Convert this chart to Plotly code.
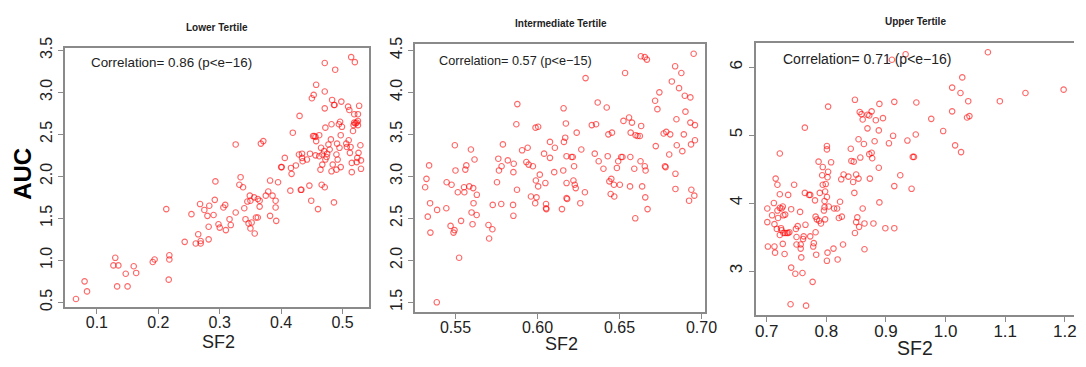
import plotly.graph_objects as go

W, H = 1086, 367

# ---------------- data ----------------
lower_sf2 = [0.066, 0.080, 0.084, 0.130, 0.127, 0.135, 0.133, 0.147, 0.150, 0.160, 0.164, 0.191, 0.194,
             0.218, 0.218, 0.217, 0.213, 0.243, 0.254, 0.261, 0.265, 0.269, 0.269, 0.268, 0.275, 0.280,
             0.283, 0.282, 0.282, 0.290, 0.292, 0.293, 0.298, 0.300, 0.306, 0.309, 0.310, 0.316, 0.318,
             0.326, 0.326, 0.332, 0.334, 0.338, 0.340, 0.342, 0.345, 0.347, 0.349, 0.350, 0.350, 0.352,
             0.356, 0.357, 0.359, 0.362, 0.362, 0.365, 0.365, 0.367, 0.371, 0.375, 0.379, 0.382, 0.382,
             0.386, 0.391, 0.391, 0.392, 0.395, 0.400, 0.401, 0.406, 0.415, 0.416, 0.417, 0.419, 0.424,
             0.429, 0.430, 0.432, 0.433, 0.434, 0.434, 0.435, 0.442, 0.447, 0.446, 0.449, 0.450, 0.453,
             0.452, 0.454, 0.456, 0.457, 0.457, 0.456, 0.460, 0.462, 0.462, 0.464, 0.465, 0.466, 0.467,
             0.467, 0.470, 0.471, 0.471, 0.471, 0.471, 0.472, 0.472, 0.474, 0.475, 0.477, 0.479, 0.481,
             0.482, 0.482, 0.483, 0.484, 0.486, 0.487, 0.486, 0.488, 0.490, 0.490, 0.491, 0.492, 0.494,
             0.495, 0.496, 0.497, 0.497, 0.498, 0.499, 0.506, 0.507, 0.509, 0.510, 0.511, 0.512, 0.513,
             0.514, 0.515, 0.515, 0.517, 0.518, 0.519, 0.520, 0.519, 0.521, 0.523, 0.523, 0.524, 0.525,
             0.525, 0.525, 0.526, 0.527, 0.529, 0.530, 0.530]
lower_auc = [0.54, 0.75, 0.63, 1.03, 0.94, 0.94, 0.69, 0.84, 0.69, 0.93, 0.85, 0.98, 1.01,
             1.06, 1.01, 0.77, 1.61, 1.22, 1.55, 1.20, 1.31, 1.23, 1.20, 1.67, 1.60, 1.53,
             1.65, 1.40, 1.25, 1.54, 1.72, 1.94, 1.43, 1.39, 1.63, 1.66, 1.36, 1.49, 1.42,
             1.57, 2.38, 1.90, 1.99, 1.87, 1.62, 1.49, 1.70, 1.44, 1.77, 1.71, 1.38, 1.45,
             1.75, 1.32, 1.51, 1.51, 1.73, 1.71, 1.64, 2.39, 2.42, 1.77, 1.82, 1.95, 1.53,
             1.77, 1.71, 1.63, 1.47, 1.93, 2.11, 2.11, 2.22, 1.83, 2.10, 2.03, 2.52, 2.13,
             2.26, 2.72, 1.84, 1.84, 2.27, 2.22, 2.18, 2.20, 2.27, 1.89, 1.71, 2.93, 2.97,
             2.48, 2.48, 2.47, 3.09, 2.42, 2.25, 1.61, 2.49, 2.24, 2.08, 2.34, 1.90, 2.14,
             2.26, 2.30, 3.35, 3.01, 2.81, 1.87, 2.58, 2.20, 2.23, 2.27, 2.38, 2.32, 2.44,
             2.62, 2.06, 2.91, 2.14, 2.85, 2.85, 1.69, 3.27, 2.26, 2.08, 2.39, 2.20, 2.62,
             2.34, 2.65, 2.49, 2.11, 2.89, 2.59, 2.39, 2.35, 2.83, 2.43, 2.79, 2.28, 2.35,
             3.42, 2.05, 2.16, 2.54, 2.61, 2.74, 3.36, 2.64, 2.63, 2.64, 2.17, 2.22, 2.66,
             2.74, 2.61, 2.28, 2.84, 2.37, 2.09, 2.19]

mid_sf2 = [0.5315, 0.5323, 0.5331, 0.5339, 0.5345, 0.5347, 0.5386, 0.5388, 0.5446, 0.5444, 0.5470, 0.5476,
           0.5488, 0.5494, 0.5496, 0.5500, 0.5514, 0.5522, 0.5534, 0.5552, 0.5554, 0.5560, 0.5566, 0.5584,
           0.5594, 0.5598, 0.5604, 0.5608, 0.5610, 0.5616, 0.5629, 0.5630, 0.5701, 0.5705, 0.5725, 0.5727,
           0.5753, 0.5761, 0.5765, 0.5779, 0.5781, 0.5789, 0.5819, 0.5851, 0.5853, 0.5853, 0.5855, 0.5871,
           0.5877, 0.5875, 0.5906, 0.5932, 0.5940, 0.5946, 0.5960, 0.5972, 0.5986, 0.5994, 0.5990, 0.5988,
           0.6004, 0.6004, 0.6014, 0.6040, 0.6048, 0.6052, 0.6052, 0.6054, 0.6076, 0.6076, 0.6102, 0.6106,
           0.6149, 0.6157, 0.6161, 0.6159, 0.6169, 0.6173, 0.6177, 0.6177, 0.6177, 0.6181, 0.6207, 0.6215,
           0.6219, 0.6223, 0.6227, 0.6233, 0.6239, 0.6261, 0.6267, 0.6289, 0.6293, 0.6331, 0.6357, 0.6349,
           0.6367, 0.6373, 0.6402, 0.6422, 0.6428, 0.6432, 0.6438, 0.6446, 0.6450, 0.6454, 0.6466, 0.6468,
           0.6484, 0.6492, 0.6502, 0.6510, 0.6518, 0.6524, 0.6534, 0.6558, 0.6564, 0.6566, 0.6568, 0.6576,
           0.6590, 0.6596, 0.6598, 0.6610, 0.6624, 0.6630, 0.6628, 0.6632, 0.6638, 0.6654, 0.6667, 0.6654,
           0.6659, 0.6657, 0.6671, 0.6717, 0.6721, 0.6731, 0.6743, 0.6769, 0.6777, 0.6781, 0.6785, 0.6803,
           0.6809, 0.6819, 0.6839, 0.6841, 0.6841, 0.6847, 0.6849, 0.6863, 0.6877, 0.6883, 0.6892, 0.6898,
           0.6902, 0.6924, 0.6932, 0.6932, 0.6936, 0.6938, 0.6952, 0.6956, 0.6960, 0.6960]
mid_auc = [2.87, 2.97, 2.52, 3.13, 2.68, 2.33, 1.50, 2.60, 2.93, 2.62, 2.41, 2.90,
           2.33, 2.36, 3.37, 3.07, 2.81, 2.03, 2.47, 2.87, 2.81, 3.08, 3.13, 2.88,
           3.32, 2.57, 2.43, 2.86, 2.68, 3.20, 2.54, 2.78, 2.42, 2.26, 2.37, 2.66,
           2.93, 3.21, 3.07, 2.67, 3.12, 3.38, 3.19, 2.66, 2.53, 3.05, 3.15, 3.62,
           3.86, 2.84, 3.31, 3.17, 3.34, 3.14, 2.76, 3.12, 2.68, 2.75, 2.95, 3.58,
           3.59, 2.88, 3.02, 3.27, 2.92, 2.67, 2.62, 2.61, 3.41, 3.22, 3.05, 3.34,
           2.61, 3.07, 3.41, 3.81, 3.46, 3.63, 3.24, 2.92, 2.74, 2.73, 3.23, 3.23,
           2.95, 3.12, 2.90, 2.86, 3.52, 2.68, 3.32, 2.81, 4.17, 3.61, 3.62, 3.27,
           3.88, 3.18, 3.09, 3.82, 3.24, 3.50, 2.94, 2.79, 2.97, 3.52, 2.90, 2.76,
           3.10, 3.18, 2.90, 3.23, 3.23, 3.66, 4.23, 3.70, 2.88, 3.23, 3.52, 3.64,
           3.09, 2.50, 3.49, 3.48, 3.48, 4.43, 3.18, 3.60, 2.88, 4.42, 4.39, 3.12,
           3.07, 2.75, 2.61, 3.90, 3.36, 3.80, 4.00, 3.51, 3.12, 3.11, 3.53, 3.26,
           3.50, 4.13, 4.31, 3.03, 2.85, 3.68, 3.37, 4.05, 4.23, 3.30, 3.50, 3.96,
           3.77, 2.71, 3.94, 3.64, 3.38, 2.84, 4.46, 2.77, 3.61, 3.43]

upper_sf2 = [0.701, 0.701, 0.702, 0.709, 0.712, 0.713, 0.713, 0.714, 0.715, 0.717, 0.718, 0.718, 0.719,
             0.722, 0.722, 0.722, 0.722, 0.724, 0.725, 0.725, 0.727, 0.727, 0.728, 0.728, 0.730, 0.731,
             0.731, 0.734, 0.736, 0.736, 0.738, 0.740, 0.741, 0.741, 0.746, 0.748, 0.749, 0.750, 0.750,
             0.752, 0.756, 0.757, 0.757, 0.758, 0.760, 0.761, 0.762, 0.764, 0.764, 0.765, 0.766, 0.771,
             0.773, 0.773, 0.777, 0.778, 0.779, 0.781, 0.782, 0.782, 0.783, 0.784, 0.787, 0.788, 0.789,
             0.791, 0.793, 0.794, 0.794, 0.796, 0.797, 0.797, 0.798, 0.798, 0.799, 0.801, 0.801, 0.801,
             0.802, 0.801, 0.802, 0.803, 0.803, 0.804, 0.808, 0.812, 0.813, 0.818, 0.819, 0.821, 0.823,
             0.825, 0.826, 0.828, 0.829, 0.837, 0.841, 0.842, 0.845, 0.846, 0.847, 0.848, 0.848, 0.850,
             0.850, 0.852, 0.854, 0.854, 0.855, 0.856, 0.857, 0.859, 0.861, 0.863, 0.861, 0.864, 0.864,
             0.869, 0.869, 0.872, 0.872, 0.873, 0.876, 0.876, 0.877, 0.879, 0.881, 0.883, 0.888, 0.888,
             0.889, 0.889, 0.895, 0.899, 0.905, 0.912, 0.914, 0.914, 0.914, 0.910, 0.924, 0.933, 0.936,
             0.943, 0.945, 0.947, 0.950, 0.951, 0.976, 0.996, 1.011, 1.011, 1.016, 1.025, 1.026, 1.028,
             1.036, 1.038, 1.040, 1.071, 1.091, 1.134, 1.198]
upper_auc = [3.92, 3.72, 3.36, 3.82, 4.00, 3.69, 3.36, 3.27, 4.36, 3.62, 4.27, 3.89, 3.78,
             4.73, 3.53, 4.13, 3.93, 3.63, 3.92, 3.60, 3.95, 3.40, 3.82, 3.56, 3.25, 3.83,
             3.56, 3.56, 4.12, 3.56, 3.57, 2.51, 3.05, 3.91, 4.27, 2.96, 3.62, 3.39, 3.50,
             3.66, 3.87, 3.39, 3.33, 3.20, 2.97, 3.47, 3.51, 5.11, 4.15, 3.68, 2.49, 4.12,
             4.12, 3.51, 2.84, 3.36, 3.41, 4.04, 3.80, 3.57, 3.24, 3.76, 4.61, 3.74, 4.15,
             3.70, 4.41, 4.53, 4.27, 3.89, 3.94, 4.03, 4.17, 3.76, 4.28, 4.84, 4.79, 3.15,
             3.27, 4.09, 4.38, 4.46, 5.42, 3.95, 4.60, 3.33, 3.92, 3.92, 3.17, 3.78, 4.02,
             4.35, 3.80, 3.39, 4.42, 4.39, 4.80, 4.62, 4.31, 4.61, 4.15, 5.52, 3.56, 4.42,
             3.72, 3.79, 4.94, 4.36, 3.65, 5.34, 4.67, 5.31, 5.23, 4.87, 3.92, 3.70, 3.32,
             5.10, 5.30, 5.29, 4.72, 4.36, 5.35, 4.74, 4.66, 3.70, 4.91, 5.22, 5.07, 4.52,
             5.46, 4.01, 5.25, 3.63, 4.88, 4.99, 5.49, 4.25, 3.63, 6.11, 4.41, 6.19, 4.92,
             4.21, 4.68, 4.68, 5.01, 5.48, 5.24, 5.06, 5.70, 5.35, 4.85, 5.62, 4.75, 5.85,
             5.26, 5.50, 5.28, 6.22, 5.50, 5.62, 5.67]

titles = ["Lower Tertile", "Intermediate Tertile", "Upper Tertile"]
corr_texts = ["Correlation= 0.86 (p<e\u221216)", "Correlation= 0.57 (p<e\u221215)", "Correlation= 0.71 (p<e\u221216)"]
x_label = "SF2"
y_label = "AUC"

x_ticks = [[0.1, 0.2, 0.3, 0.4, 0.5], [0.55, 0.60, 0.65, 0.70], [0.7, 0.8, 0.9, 1.0, 1.1, 1.2]]
y_ticks = [[0.5, 1.0, 1.5, 2.0, 2.5, 3.0, 3.5], [1.5, 2.0, 2.5, 3.0, 3.5, 4.0, 4.5], [3, 4, 5, 6]]
x_fmt = [".1f", ".2f", ".1f"]
y_fmt = [".1f", ".1f", "d"]

# ---------------- layout geometry (pixels) ----------------
boxes = [  # left, right, top, bottom
    (65, 372, 38, 308),
    (419, 713, 33, 313),
    (764, 1086, 32, 316),
]
x_ranges = [[0.0485, 0.5423], [0.5253, 0.7024], [0.6818, 1.2154]]
y_ranges = [[0.4395, 3.523], [1.382, 4.58], [2.351, 6.361]]
right_line = [True, True, False]

FONT = "Liberation Sans, Arial, Helvetica, sans-serif"
MARK = "rgba(255,0,0,0.6)"
AXC = "#8a8a8a"

fig = go.Figure()
series = [(lower_sf2, lower_auc), (mid_sf2, mid_auc), (upper_sf2, upper_auc)]
for i, (xs, ys) in enumerate(series):
    sfx = "" if i == 0 else str(i + 1)
    fig.add_trace(go.Scatter(
        x=xs, y=ys, mode="markers", xaxis="x" + sfx, yaxis="y" + sfx,
        marker=dict(symbol="circle-open", size=5.5, color=MARK, line=dict(width=1.1, color=MARK)),
        showlegend=False, hoverinfo="skip", cliponaxis=False))

layout = dict(width=W, height=H, margin=dict(l=0, r=0, t=0, b=0),
              paper_bgcolor="white", plot_bgcolor="white",
              font=dict(family=FONT, color="#222"), annotations=[])

tick_sizes = [16, 16, 17]
for i in range(3):
    l, r, t, b = boxes[i]
    sfx = "" if i == 0 else str(i + 1)
    layout["xaxis" + sfx] = dict(
        domain=[l / W, r / W], range=x_ranges[i], anchor="y" + sfx,
        tickvals=x_ticks[i], tickformat=x_fmt[i], ticks="outside", ticklen=5, tickwidth=1,
        tickcolor=AXC, showline=True, linecolor=AXC, linewidth=1.5, mirror=True,
        showgrid=False, zeroline=False, ticklabelstandoff=-5,
        tickfont=dict(size=tick_sizes[i], color="#222"))
    layout["yaxis" + sfx] = dict(
        domain=[1 - b / H, 1 - t / H], range=y_ranges[i], anchor="x" + sfx,
        tickvals=y_ticks[i], tickformat=y_fmt[i], ticks="outside", ticklen=5, tickwidth=1,
        tickcolor=AXC, showline=True, linecolor=AXC, linewidth=1.5, mirror=right_line[i],
        showgrid=False, zeroline=False, tickangle=-90,
        tickfont=dict(size=tick_sizes[i], color="#222"))

title_pos = [(219, 16), (567, 12), (926, 10)]
corr_pos = [(89, 53, 13.4), (441, 51, 12.7), (789, 49, 14)]
xlab_pos = [(220, 344, 18), (567, 346, 18), (925, 350, 19.5)]
for i in range(3):
    tx, ty = title_pos[i]
    layout["annotations"].append(dict(
        text="<b>" + titles[i] + "</b>", x=tx / W, y=1 - ty / H, xref="paper", yref="paper",
        xanchor="center", yanchor="middle", showarrow=False, font=dict(size=10, color="#222")))
    cx, cy, cs = corr_pos[i]
    layout["annotations"].append(dict(
        text=corr_texts[i], x=cx / W, y=1 - cy / H, xref="paper", yref="paper",
        xanchor="left", yanchor="middle", showarrow=False, font=dict(size=cs, color="#222")))
    lx, ly, ls = xlab_pos[i]
    layout["annotations"].append(dict(
        text=x_label, x=lx / W, y=1 - ly / H, xref="paper", yref="paper",
        xanchor="center", yanchor="middle", showarrow=False, font=dict(size=ls, color="#222")))

layout["annotations"].append(dict(
    text="<b>" + y_label + "</b>", x=21 / W, y=1 - 169 / H, xref="paper", yref="paper",
    xanchor="center", yanchor="middle", textangle=-90, showarrow=False,
    font=dict(size=24, color="black")))

fig.update_layout(**layout)
fig.write_html("out.html")
